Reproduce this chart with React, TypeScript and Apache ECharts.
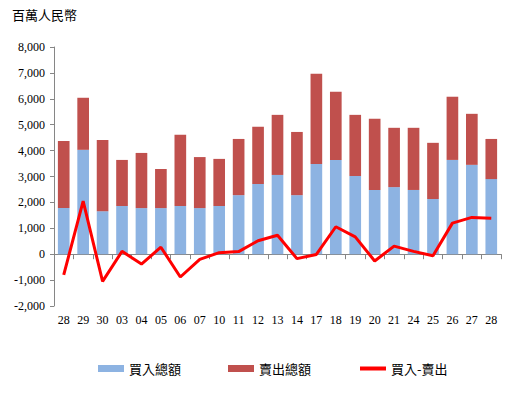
import React, { useEffect, useRef } from "react";
import * as echarts from "echarts";

const categories = ["28","29","30","03","04","05","06","07","10","11","12","13","14","17","18","19","20","21","24","25","26","27","28"];
const buyTotal = [1780,4030,1660,1860,1780,1780,1860,1780,1860,2280,2710,3060,2280,3480,3640,3020,2480,2590,2480,2130,3640,3450,2900];
const sellTotal = [2590,2010,2750,1780,2130,1510,2750,1970,1820,2170,2210,2320,2440,3490,2630,2360,2750,2290,2400,2170,2440,1970,1550];
const netBuy = [-800,2050,-1050,110,-380,270,-880,-200,60,100,520,730,-170,-10,1060,670,-260,310,110,-60,1200,1420,1390];
const yTicks = { min: -2000, max: 8000, interval: 1000 };

const CJK = '"Noto Sans CJK TC", "Noto Sans CJK SC", sans-serif';
const SERIF = '"Liberation Serif", "DejaVu Serif", serif';

export default function App() {
  const ref = useRef<HTMLDivElement>(null);
  useEffect(() => {
    if (!ref.current) return;
    const chart = echarts.init(ref.current, undefined, { renderer: "svg" });
    chart.setOption({
      animation: false,
      backgroundColor: "#ffffff",
      title: {
        text: "百萬人民幣",
        left: 12,
        top: 8,
        padding: 0,
        textStyle: { fontFamily: CJK, fontSize: 13, fontWeight: "normal", color: "#000" },
      },
      legend: {
        left: 98,
        top: 362,
        padding: 0,
        itemWidth: 26,
        itemHeight: 7,
        itemGap: 47,
        textStyle: { fontFamily: CJK, fontSize: 13, color: "#000" },
        data: [
          { name: "買入總額", icon: "rect" },
          { name: "賣出總額", icon: "rect" },
          { name: "買入-賣出", itemStyle: { opacity: 0 }, lineStyle: { width: 4, color: "#FF0000" } },
        ],
      },
      grid: { left: 54, right: 15, top: 47, bottom: 90, containLabel: false },
      xAxis: [
        {
          type: "category",
          data: categories,
          axisLine: { onZero: true, lineStyle: { color: "#868686", width: 1 } },
          axisTick: { show: true, length: 5, lineStyle: { color: "#868686" } },
          axisLabel: { show: false },
        },
        {
          type: "category",
          data: categories,
          position: "bottom",
          axisLine: { show: false, onZero: false },
          axisTick: { show: false },
          axisLabel: { show: true, margin: 8, fontFamily: SERIF, fontSize: 12, color: "#000", interval: 0 },
        },
      ],
      yAxis: {
        type: "value",
        min: yTicks.min,
        max: yTicks.max,
        interval: yTicks.interval,
        splitLine: { show: false },
        axisLine: { show: true, lineStyle: { color: "#868686" } },
        axisTick: { show: true, length: 4, lineStyle: { color: "#868686" } },
        axisLabel: {
          fontFamily: SERIF,
          fontSize: 12,
          color: "#000",
          margin: 9,
          formatter: (v: number) => v.toLocaleString("en-US"),
        },
      },
      series: [
        {
          name: "買入總額",
          type: "bar",
          stack: "total",
          data: buyTotal,
          barWidth: "60%",
          itemStyle: { color: "#8DB3E2" },
        },
        {
          name: "賣出總額",
          type: "bar",
          stack: "total",
          data: sellTotal,
          barWidth: "60%",
          itemStyle: { color: "#C0504D" },
        },
        {
          name: "買入-賣出",
          type: "line",
          data: netBuy,
          symbol: "none",
          lineStyle: { color: "#FF0000", width: 3 },
          itemStyle: { color: "#FF0000" },
          z: 5,
        },
      ],
    });
    return () => chart.dispose();
  }, []);
  return (
    <div
      ref={ref}
      style={{ position: "absolute", left: 0, top: 0, width: 516, height: 396 }}
    />
  );
}
